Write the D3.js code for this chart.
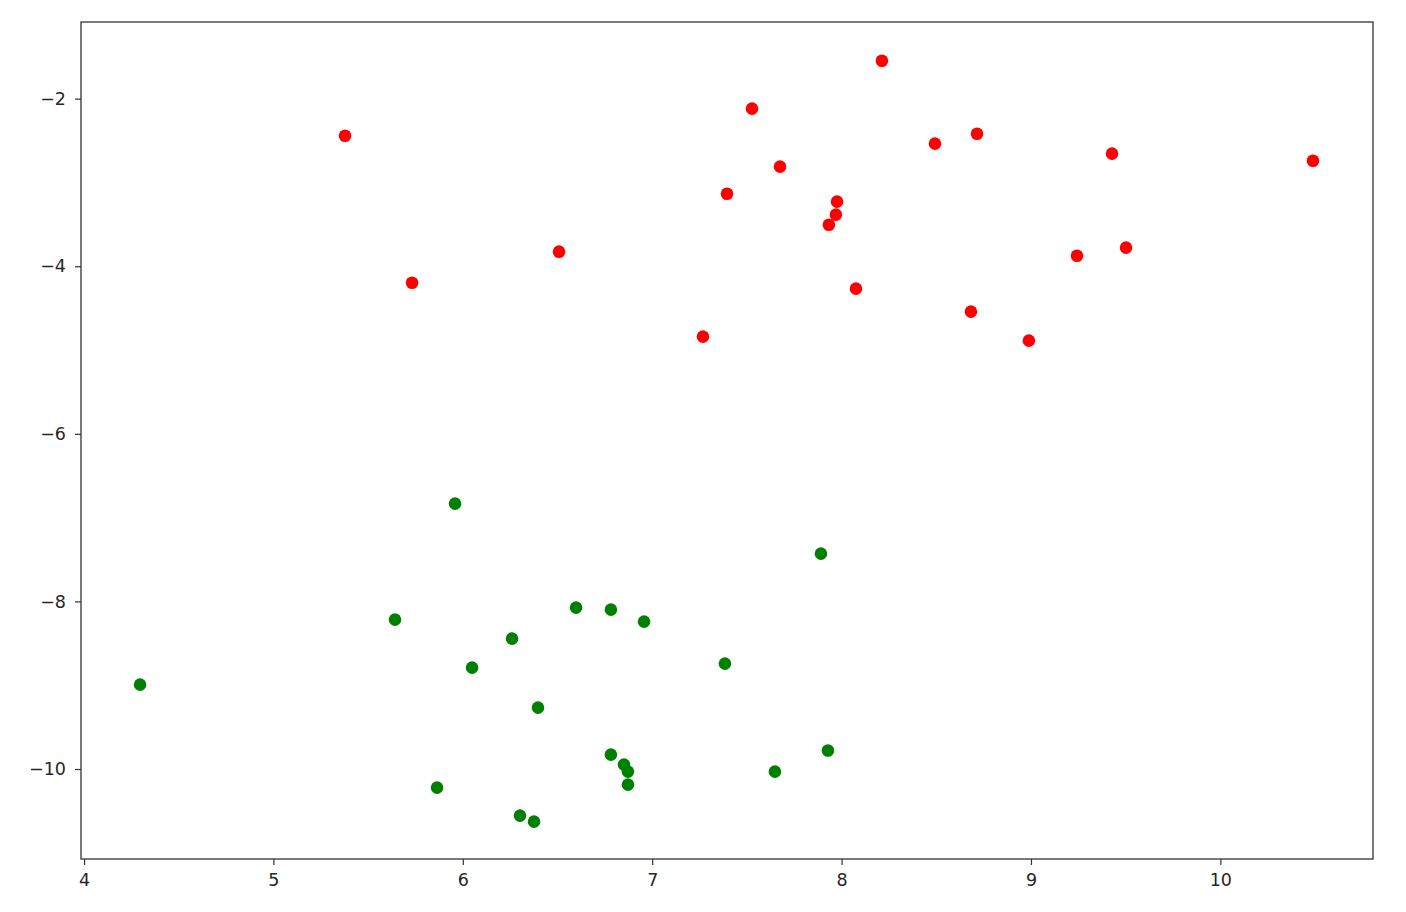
<!DOCTYPE html>
<html>
<head>
<meta charset="utf-8">
<script src="https://cdn.jsdelivr.net/npm/d3@7"></script>
<style>
  body { margin: 0; background: #fff; }
  svg text { font-family: "DejaVu Sans", sans-serif; font-size: 17.5px; fill: #262626; }
</style>
</head>
<body>
<div id="chart"></div>
<script>
// red cluster
const redX = [8.213, 7.527, 5.378, 8.715, 8.493, 9.428, 10.489, 7.675, 7.395, 7.976,
              7.970, 7.933, 6.508, 9.243, 9.502, 5.732, 8.076, 8.683, 7.268, 8.989];
const redY = [-1.547, -2.119, -2.442, -2.418, -2.537, -2.656, -2.740, -2.811, -3.134, -3.229,
              -3.384, -3.504, -3.826, -3.874, -3.778, -4.196, -4.267, -4.542, -4.840, -4.888];
// green cluster
const greenX = [5.959, 7.891, 6.598, 6.782, 5.642, 6.957, 6.260, 6.049, 7.384, 4.296,
                6.397, 6.782, 7.928, 6.851, 6.872, 7.648, 6.872, 5.864, 6.302, 6.376];
const greenY = [-6.833, -7.430, -8.074, -8.098, -8.217, -8.241, -8.444, -8.790, -8.742, -8.993,
                -9.267, -9.828, -9.780, -9.948, -10.031, -10.031, -10.186, -10.222, -10.556, -10.628];

const xTicks = [4, 5, 6, 7, 8, 9, 10];
const yTicks = [-2, -4, -6, -8, -10];

const width = 1406, height = 912;
const m = { left: 81, right: 1373, top: 22, bottom: 859 };

const svg = d3.select('#chart').append('svg')
  .attr('width', width)
  .attr('height', height);

const x = d3.scaleLinear().domain([3.984, 10.806]).range([m.left, m.right]);
const y = d3.scaleLinear().domain([-11.074, -1.085]).range([m.bottom, m.top]);

const fmt = d => String(d).replace('-', '\u2212');

const xAxis = svg.append('g')
  .attr('transform', `translate(0,${m.bottom})`)
  .call(d3.axisBottom(x).tickValues(xTicks).tickFormat(fmt).tickSize(6).tickPadding(9));
const yAxis = svg.append('g')
  .attr('transform', `translate(${m.left},0)`)
  .call(d3.axisLeft(y).tickValues(yTicks).tickFormat(fmt).tickSize(6).tickPadding(9));

[xAxis, yAxis].forEach(a => {
  a.select('.domain').remove();
  a.selectAll('.tick line').attr('stroke', '#333').attr('stroke-width', 1.2);
  a.selectAll('.tick text').attr('font-size', 17.5).attr('font-family', '"DejaVu Sans", sans-serif').attr('fill', '#262626');
});

svg.append('rect')
  .attr('x', m.left).attr('y', m.top)
  .attr('width', m.right - m.left).attr('height', m.bottom - m.top)
  .attr('fill', 'none').attr('stroke', '#333').attr('stroke-width', 1.3);

const red = redX.map((v, i) => [v, redY[i]]);
const green = greenX.map((v, i) => [v, greenY[i]]);

svg.append('g').selectAll('circle').data(red).join('circle')
  .attr('cx', d => x(d[0])).attr('cy', d => y(d[1])).attr('r', 6.3)
  .attr('fill', '#ff0000');

svg.append('g').selectAll('circle').data(green).join('circle')
  .attr('cx', d => x(d[0])).attr('cy', d => y(d[1])).attr('r', 6.3)
  .attr('fill', '#008000');
</script>
</body>
</html>
